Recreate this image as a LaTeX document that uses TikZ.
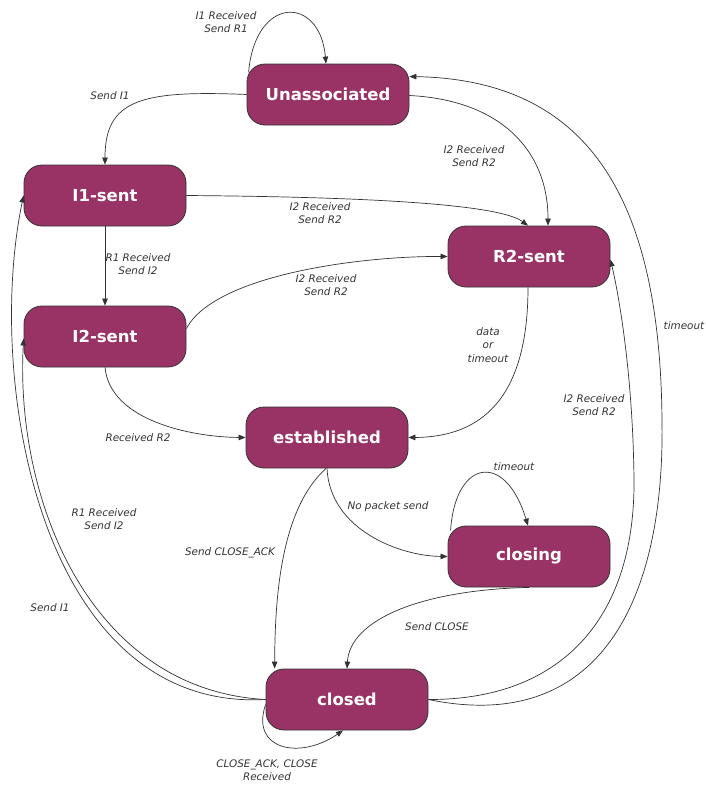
\documentclass[tikz,border=0pt]{standalone}
\usepackage{fontspec}
\setmainfont{DejaVu Sans}
\usetikzlibrary{arrows.meta,calc}
\definecolor{statefill}{HTML}{993366}
\definecolor{ink}{HTML}{333333}
\begin{document}
\begin{tikzpicture}[x=1pt,y=-1pt,
  state/.style={draw=ink, line width=0.8pt, fill=statefill, rounded corners=18pt,
    minimum width=162pt, minimum height=61pt, inner sep=0pt, text=white,
    font=\fontsize{16.5}{20}\selectfont\bfseries},
  edge/.style={draw=ink, line width=0.7pt, -{Triangle[length=7pt,width=5.5pt]}},
  lbl/.style={font=\fontsize{10.4}{13.5}\selectfont\itshape, text=ink, align=center, inner sep=0pt}]
\useasboundingbox (0,0) rectangle (705,785);

% states
\node[state] (u)   at (328,94.5)  {Unassociated};
\node[state] (i1)  at (105,195.5) {I1-sent};
\node[state] (r2)  at (529,256.5) {R2-sent};
\node[state] (i2)  at (105,336.5) {I2-sent};
\node[state] (est) at (327,437.5) {established};
\node[state] (cls) at (529,556.5) {closing};
\node[state] (cld) at (347,699.5) {closed};

% transitions
\draw[edge] ($(u.west)+(2,-22)$) .. controls (255,-5) and (320,-5) .. ($(u.north)+(-2,0)$);
\draw[edge] (u.west) .. controls (140,90) and (105,100) .. (i1.north);
\draw[edge] ($(u.east)+(0,1)$) .. controls (500,100) and (548,150) .. ($(r2.north)+(19,0)$);
\draw[edge] (i1.east) .. controls (380,197) and (500,205) .. ($(r2.north)+(-1,0)$);
\draw[edge] (i1.south) -- (i2.north);
\draw[edge] ($(i2.east)+(0,-8)$) .. controls (215,275) and (360,256) .. (r2.west);
\draw[edge] (i2.south) .. controls (110,420) and (190,437) .. (est.west);
\draw[edge] ($(r2.south)+(-1,0)$) .. controls (528,400) and (480,437) .. (est.east);
\draw[edge] (est.south) .. controls (330,530) and (400,556) .. (cls.west);
\draw[edge] ($(est.south)+(-1,0)$) .. controls (280,510) and (275,600) .. ($(cld.north west)+(9,0)$);
\draw[edge] ($(cls.west)+(3,-26)$) .. controls (455,460) and (505,450) .. ($(cls.north)+(-1,0)$);
\draw[edge] (cls.south) .. controls (420,590) and (350,620) .. (cld.north);
\draw[edge] ($(cld.west)+(0,5)$) .. controls (250,750) and (300,760) .. ($(cld.south)+(-4,0)$);
\draw[edge] (cld.west) .. controls (40,712) and (-15,380) .. (i1.west);
\draw[edge] (cld.west) .. controls (90,690) and (15,500) .. ($(i2.west)+(0,2)$);
\draw[edge] (cld.east) .. controls (560,700) and (635,620) .. (634,480)
   .. controls (633,380) and (620,300) .. ($(r2.east)+(0,3)$);
\draw[edge] (cld.east) .. controls (600,735) and (665,600) .. (662,420)
   .. controls (660,200) and (590,80) .. ($(u.east)+(0,-18)$);

% labels
\node[lbl] (l1)  at (226,22)  {I1 Received\\Send R1};
\node[lbl] (l2)  at (110,96)  {Send I1};
\node[lbl] (l3)  at (474,156) {I2 Received\\Send R2};
\node[lbl] (l4)  at (320,213) {I2 Received\\Send R2};
\node[lbl] (l5)  at (138,264) {R1 Received\\Send I2};
\node[lbl] (l6)  at (326,285) {I2 Received\\Send R2};
\node[lbl] (l7)  at (138,438) {Received R2};
\node[lbl] (l8)  at (488,345) {data\\or\\timeout};
\node[lbl] (l9)  at (388,507) {No packet send};
\node[lbl] (l10) at (230,553) {Send CLOSE\_ACK};
\node[lbl] (l11) at (514,467) {timeout};
\node[lbl] (l12) at (437,627) {Send CLOSE};
\node[lbl] (l13) at (267,770) {CLOSE\_ACK, CLOSE\\Received};
\node[lbl] (l14) at (104,519) {R1 Received\\Send I2};
\node[lbl] (l15) at (50,608)  {Send I1};
\node[lbl] (l16) at (594,405) {I2 Received\\Send R2};
\node[lbl] (l17) at (684,326) {timeout};
\end{tikzpicture}
\end{document}
